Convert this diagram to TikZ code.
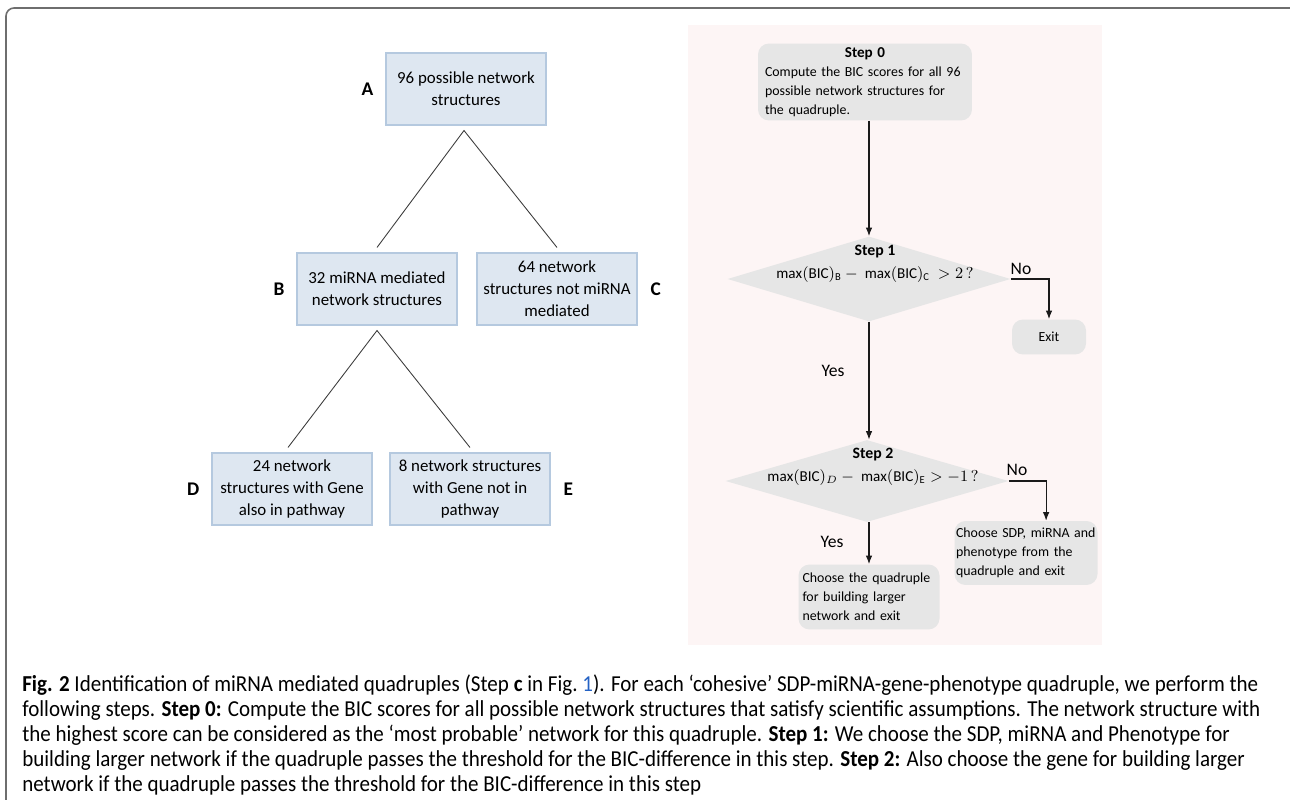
\documentclass[tikz,border=0pt]{standalone}
\usepackage{fontspec}
\setmainfont{Carlito}
\newfontfamily\capfont{Carlito}[FakeStretch=0.92]
\usepackage{tikz}
\usetikzlibrary{arrows.meta,positioning,shapes.geometric,calc}
\definecolor{framegray}{HTML}{6E6E6E}
\definecolor{panelpink}{HTML}{FDF5F5}
\definecolor{treefill}{HTML}{DEE7F1}
\definecolor{treeedge}{HTML}{B5C9DF}
\definecolor{treeink}{HTML}{3C3C3C}
\definecolor{cardgray}{HTML}{E6E6E6}
\definecolor{ink}{HTML}{1A1A1A}
\definecolor{linkblue}{HTML}{2462C4}
\tikzset{
  treebox/.style={draw=treeedge,fill=treefill,line width=0.6pt,
                  minimum width=3.2cm,minimum height=1.44cm,
                  align=center,font=\fontsize{9.6}{12.6}\selectfont,inner sep=2pt},
  letter/.style={font=\bfseries\fontsize{11}{12}\selectfont,inner sep=1pt},
  treeline/.style={draw=treeink,line width=0.5pt},
  stepcard/.style={fill=cardgray,rounded corners=0.22cm,
                   align=left,font=\fontsize{7.9}{10.8}\selectfont,inner sep=0pt},
  decision/.style={diamond,fill=cardgray,inner sep=0pt,
                   minimum width=5.66cm,minimum height=1.7cm},
  dtext/.style={align=center,font=\fontsize{8.6}{13}\selectfont,inner sep=0pt},
  answer/.style={font=\fontsize{10}{12}\selectfont,inner sep=1pt},
  flowarr/.style={-{Latex[length=1.7mm,width=1.3mm]},line width=0.6pt,color=ink}
}
\begin{document}
\begin{tikzpicture}[x=0.02cm,y=-0.02cm,>=Latex]
  \useasboundingbox (0,0) rectangle (1290,800);
  \draw[framegray,line width=0.9pt,rounded corners=0.16cm] (6,802) -- (6,8) -- (1292,8);
  \fill[panelpink] (688,25) rectangle (1102,645);

  % tree of network structures
  \node[treebox] (a) at (466,89) {96 possible network\\structures};
  \node[treebox] (b) at (377,289) {32 miRNA mediated\\network structures};
  \node[treebox] (c) at (557,289) {64 network\\structures not miRNA\\mediated};
  \node[treebox] (d) at (292,489) {24 network\\structures with Gene\\also in pathway};
  \node[treebox] (e) at (470,489) {8 network structures\\with Gene not in\\pathway};
  \node[letter,left=0.2cm of a] (la) {A};
  \node[letter,left=0.2cm of b] (lb) {B};
  \node[letter,right=0.22cm of c] (lc) {C};
  \node[letter,left=0.2cm of d] (ld) {D};
  \node[letter,right=0.22cm of e] (le) {E};
  \coordinate (topa) at ($(a.south)+(-2,5)$);
  \coordinate (topb) at ($(b.south)+(0,5)$);
  \draw[treeline] ($(b.north)+(0,-5)$) -- (topa) -- ($(c.north)+(0,-5)$);
  \draw[treeline] ($(d.north)+(-4,-5)$) -- (topb) -- ($(e.north)+(0,-5)$);

  % flow of steps
  \node[stepcard,minimum width=4.28cm,minimum height=1.54cm,text width=4.0cm] (s0) at (865,82)
    {\makebox[\linewidth]{\fontsize{8.6}{10.8}\selectfont\textbf{Step 0}}\\Compute the BIC scores for all 96\\possible network structures for\\the quadruple.};
  \node[decision,label={[dtext,xshift=0.12cm,yshift=0.3cm]center:{\fontsize{9}{13}\selectfont\textbf{Step 1}\\$\max(\mathrm{BIC})_{\mathrm{B}}-\ \max(\mathrm{BIC})_{\mathrm{C}}\ >2\,?$}}] (s1) at (869,279) {};
  \node[decision,minimum height=1.64cm,label={[dtext,xshift=0.12cm,yshift=0.28cm]center:{\fontsize{9}{13}\selectfont\textbf{Step 2}\\$\max(\mathrm{BIC})_{D}-\ \max(\mathrm{BIC})_{\mathrm{E}}>-1\,?$}}] (s2) at (867,481) {};
  \node[stepcard,align=center,minimum width=1.48cm,minimum height=0.7cm] (exit) at (1049,337) {Exit};
  \node[stepcard,minimum width=2.86cm,minimum height=1.28cm,text width=2.8cm] (nobox) at (1026,553)
    {Choose SDP, miRNA and\\phenotype from the\\quadruple and exit};
  \node[stepcard,minimum width=2.82cm,minimum height=1.3cm,text width=2.66cm] (yesbox) at (869,597)
    {Choose the quadruple\\for building larger\\network and exit};

  \draw[flowarr] (s0.south -| s1.north) -- (s1.north);
  \draw[flowarr] (s1.east) -| (exit.north);
  \draw[flowarr] (s1.south) -- (s1.south |- s2.north);
  \draw[flowarr] (s2.east) -| ($(nobox.north east)!0.36!(nobox.north west)$);
  \draw[flowarr] (s2.south -| yesbox.north) -- (yesbox.north);
  \node[answer] (no1) at (1021,269) {No};
  \node[answer] (yes1) at (833,371) {Yes};
  \node[answer] (no2) at (1017,470) {No};
  \node[answer] (yes2) at (832,542) {Yes};

  % caption
  \node[anchor=north west,align=left,inner sep=0pt,
        font=\capfont\fontsize{13}{14.25}\selectfont] (cap) at (22,674)
    {\textbf{Fig. 2} Identification of miRNA mediated quadruples (Step \textbf{c} in Fig.~{\color{linkblue}1}). For each ‘cohesive’ SDP-miRNA-gene-phenotype quadruple, we perform the\\
     following steps. \textbf{Step 0:} Compute the BIC scores for all possible network structures that satisfy scientific assumptions. The network structure with\\
     the highest score can be considered as the ‘most probable’ network for this quadruple. \textbf{Step 1:} We choose the SDP, miRNA and Phenotype for\\
     building larger network if the quadruple passes the threshold for the BIC-difference in this step. \textbf{Step 2:} Also choose the gene for building larger\\
     network if the quadruple passes the threshold for the BIC-difference in this step};
\end{tikzpicture}
\end{document}
